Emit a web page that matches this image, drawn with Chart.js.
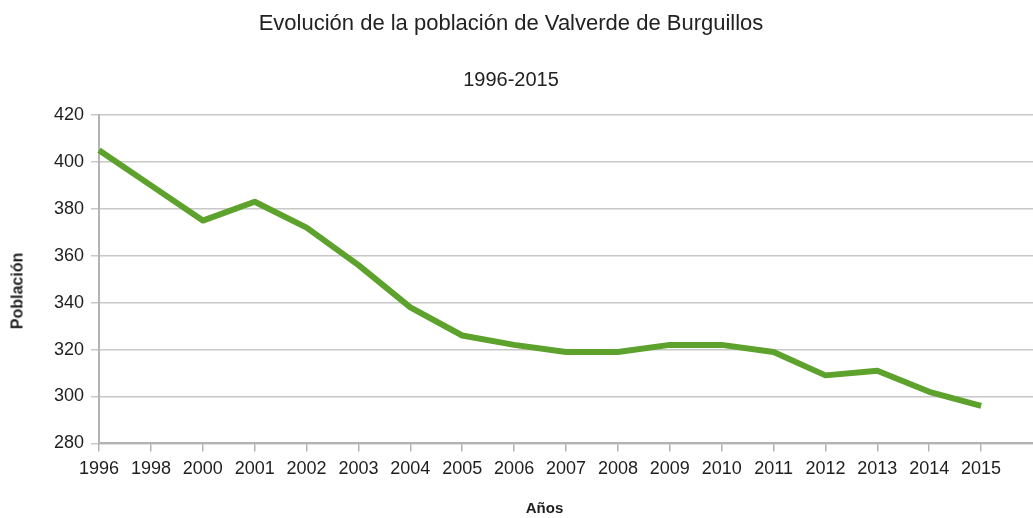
<!DOCTYPE html>
<html>
<head>
<meta charset="utf-8">
<script src="https://cdn.jsdelivr.net/npm/chart.js@4"></script>
<style>
html,body{margin:0;padding:0;background:#fff;overflow:hidden;}
#wrap{position:relative;width:1033px;height:518px;overflow:hidden;}
#c{position:absolute;left:0;top:0;}
.ttl{position:absolute;left:0;width:1022px;text-align:center;font-family:'Liberation Sans',Arial,sans-serif;color:#222;white-space:nowrap;}
#t1{top:10px;font-size:22px;line-height:26px;}
#t2{top:67px;font-size:20px;line-height:24px;}
#ytitle{position:absolute;left:17px;top:291px;transform:translate(-50%,-50%) rotate(-90deg);font-family:'Liberation Sans',Arial,sans-serif;font-weight:bold;font-size:16px;line-height:19px;color:#1e1e1e;white-space:nowrap;}
#xtitle{position:absolute;left:0;width:1089px;top:499px;text-align:center;font-family:'Liberation Sans',Arial,sans-serif;font-weight:bold;font-size:15px;line-height:18px;color:#1e1e1e;white-space:nowrap;}
</style>
</head>
<body>
<div id="wrap">
<canvas id="c" width="1040" height="518"></canvas>
<div class="ttl" id="t1">Evolución de la población de Valverde de Burguillos</div>
<div class="ttl" id="t2">1996-2015</div>
<div id="ytitle">Población</div>
<div id="xtitle">Años</div>
</div>
<script>
const years = ["1996","1998","2000","2001","2002","2003","2004","2005","2006","2007","2008","2009","2010","2011","2012","2013","2014","2015",""];
const population = [405,390,375,383,372,356,338,326,322,319,319,322,322,319,309,311,302,296,null];
const yTicks = [280,300,320,340,360,380,400,420];

const FONT = "'Liberation Sans', Arial, sans-serif";
const TXT = '#1e1e1e';

new Chart(document.getElementById('c'), {
  type: 'line',
  data: {
    labels: years,
    datasets: [{
      label: 'Población',
      data: population,
      borderColor: '#5da22c',
      backgroundColor: '#5da22c',
      borderWidth: 6,
      pointRadius: 0,
      tension: 0,
      borderCapStyle: 'butt',
      borderJoinStyle: 'round',
      fill: false
    }]
  },
  options: {
    responsive: false,
    animation: false,
    devicePixelRatio: 1,
    layout: { padding: { left: 47, right: 0, top: 115, bottom: 31 } },
    plugins: {
      legend: { display: false },
      tooltip: { enabled: false },
      title: { display: false },
      subtitle: { display: false }
    },
    scales: {
      x: {
        type: 'category',
        offset: false,
        border: { display: true, color: '#b3b3b3', width: 2 },
        grid: {
          drawOnChartArea: false, drawTicks: true, tickLength: 8, lineWidth: 1.5,
          color: (ctx) => (years[ctx.index] === '' ? 'rgba(0,0,0,0)' : '#b3b3b3')
        },
        ticks: { color: TXT, font: { family: FONT, size: 18 }, padding: 7, autoSkip: false, maxRotation: 0 },
        title: { display: false }
      },
      y: {
        min: 280,
        max: 420,
        afterBuildTicks: (scale) => { scale.ticks = yTicks.map(v => ({ value: v })); },
        border: { display: true, color: '#b3b3b3', width: 2 },
        grid: { drawOnChartArea: true, drawTicks: true, tickLength: 8, color: '#c8c8c8', lineWidth: 1.5 },
        ticks: { color: TXT, font: { family: FONT, size: 18 }, padding: 7 },
        title: { display: false }
      }
    }
  }
});
</script>
</body>
</html>
